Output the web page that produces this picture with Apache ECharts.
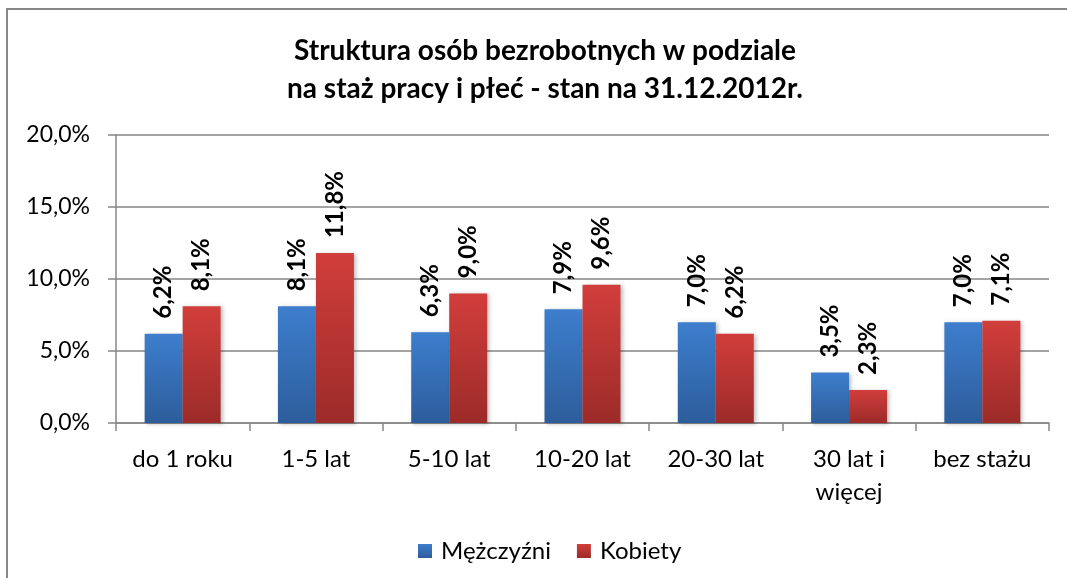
<!DOCTYPE html>
<html>
<head>
<meta charset="utf-8">
<script src="https://cdn.jsdelivr.net/npm/echarts@6/dist/echarts.min.js"></script>
<style>
  html, body { margin: 0; padding: 0; background: #fff; }
  #chart { width: 1067px; height: 578px; }
</style>
</head>
<body>
<div id="chart"></div>
<script>
  // dane z wykresu
  var categories = ['do 1 roku', '1-5 lat', '5-10 lat', '10-20 lat', '20-30 lat', '30 lat i\nwięcej', 'bez stażu'];
  var men = [6.2, 8.1, 6.3, 7.9, 7.0, 3.5, 7.0];
  var women = [8.1, 11.8, 9.0, 9.6, 6.2, 2.3, 7.1];
  var seriesNames = ['Mężczyźni', 'Kobiety'];
  var yTicks = [0, 5, 10, 15, 20];

  var font = 'Lato, "Open Sans", sans-serif';

  function fmt(v) {
    return v.toFixed(1).replace('.', ',') + '%';
  }

  function grad(top, bottom) {
    return new echarts.graphic.LinearGradient(0, 0, 0, 1, [
      { offset: 0, color: top },
      { offset: 1, color: bottom }
    ]);
  }

  var labelCfg = {
    show: true,
    position: 'top',
    rotate: 90,
    align: 'left',
    verticalAlign: 'middle',
    distance: 15,
    color: '#000',
    fontFamily: font,
    fontWeight: 'bold',
    fontSize: 24,
    formatter: function (p) { return fmt(p.value); }
  };

  var chart = echarts.init(document.getElementById('chart'));
  chart.setOption({
    backgroundColor: '#fff',
    animation: false,
    graphic: [{
      type: 'rect',
      shape: { x: 7, y: 9, width: 1100, height: 620 },
      style: { fill: 'none', stroke: '#878787', lineWidth: 2 },
      silent: true
    }],
    title: {
      text: 'Struktura osób bezrobotnych w podziale\nna staż pracy i płeć - stan na 31.12.2012r.',
      left: 540,
      textAlign: 'center',
      top: 27,
      textStyle: {
        fontFamily: font,
        fontWeight: 'bold',
        fontSize: 28,
        lineHeight: 38,
        color: '#000'
      }
    },
    legend: {
      data: seriesNames,
      left: 413,
      top: 534,
      itemWidth: 14,
      itemHeight: 14,
      itemGap: 26,
      icon: 'rect',
      textStyle: { fontFamily: font, fontSize: 24, color: '#000', padding: [0, 0, 0, 4] }
    },
    grid: { left: 116, right: 18, top: 135, bottom: 155 },
    xAxis: {
      type: 'category',
      data: categories,
      axisLine: { lineStyle: { color: '#868686', width: 1.5 } },
      axisTick: { show: true, length: 8, lineStyle: { color: '#868686', width: 1.5 } },
      axisLabel: {
        fontFamily: font,
        fontSize: 24,
        lineHeight: 33,
        color: '#000',
        margin: 20,
        interval: 0
      }
    },
    yAxis: {
      type: 'value',
      min: yTicks[0],
      max: yTicks[yTicks.length - 1],
      interval: 5,
      axisLine: { show: true, lineStyle: { color: '#868686', width: 1.5 } },
      axisTick: { show: true, length: 8, lineStyle: { color: '#868686', width: 1.5 } },
      splitLine: { lineStyle: { color: '#868686', width: 1.5 } },
      axisLabel: {
        fontFamily: font,
        fontSize: 23,
        color: '#000',
        margin: 26,
        formatter: function (v) { return fmt(v); }
      }
    },
    series: [{
      name: seriesNames[0],
      type: 'bar',
      data: men,
      barWidth: 38,
      barGap: '0%',
      itemStyle: {
        color: grad('#3d7ecd', '#2d5d9b'),
        shadowColor: 'rgba(0,0,0,0.25)',
        shadowBlur: 4,
        shadowOffsetX: 2,
        shadowOffsetY: 1
      },
      label: labelCfg
    }, {
      name: seriesNames[1],
      type: 'bar',
      data: women,
      barWidth: 38,
      barGap: '0%',
      itemStyle: {
        color: grad('#d13e3b', '#9c2b29'),
        shadowColor: 'rgba(0,0,0,0.25)',
        shadowBlur: 4,
        shadowOffsetX: 2,
        shadowOffsetY: 1
      },
      label: labelCfg
    }]
  });
</script>
</body>
</html>
